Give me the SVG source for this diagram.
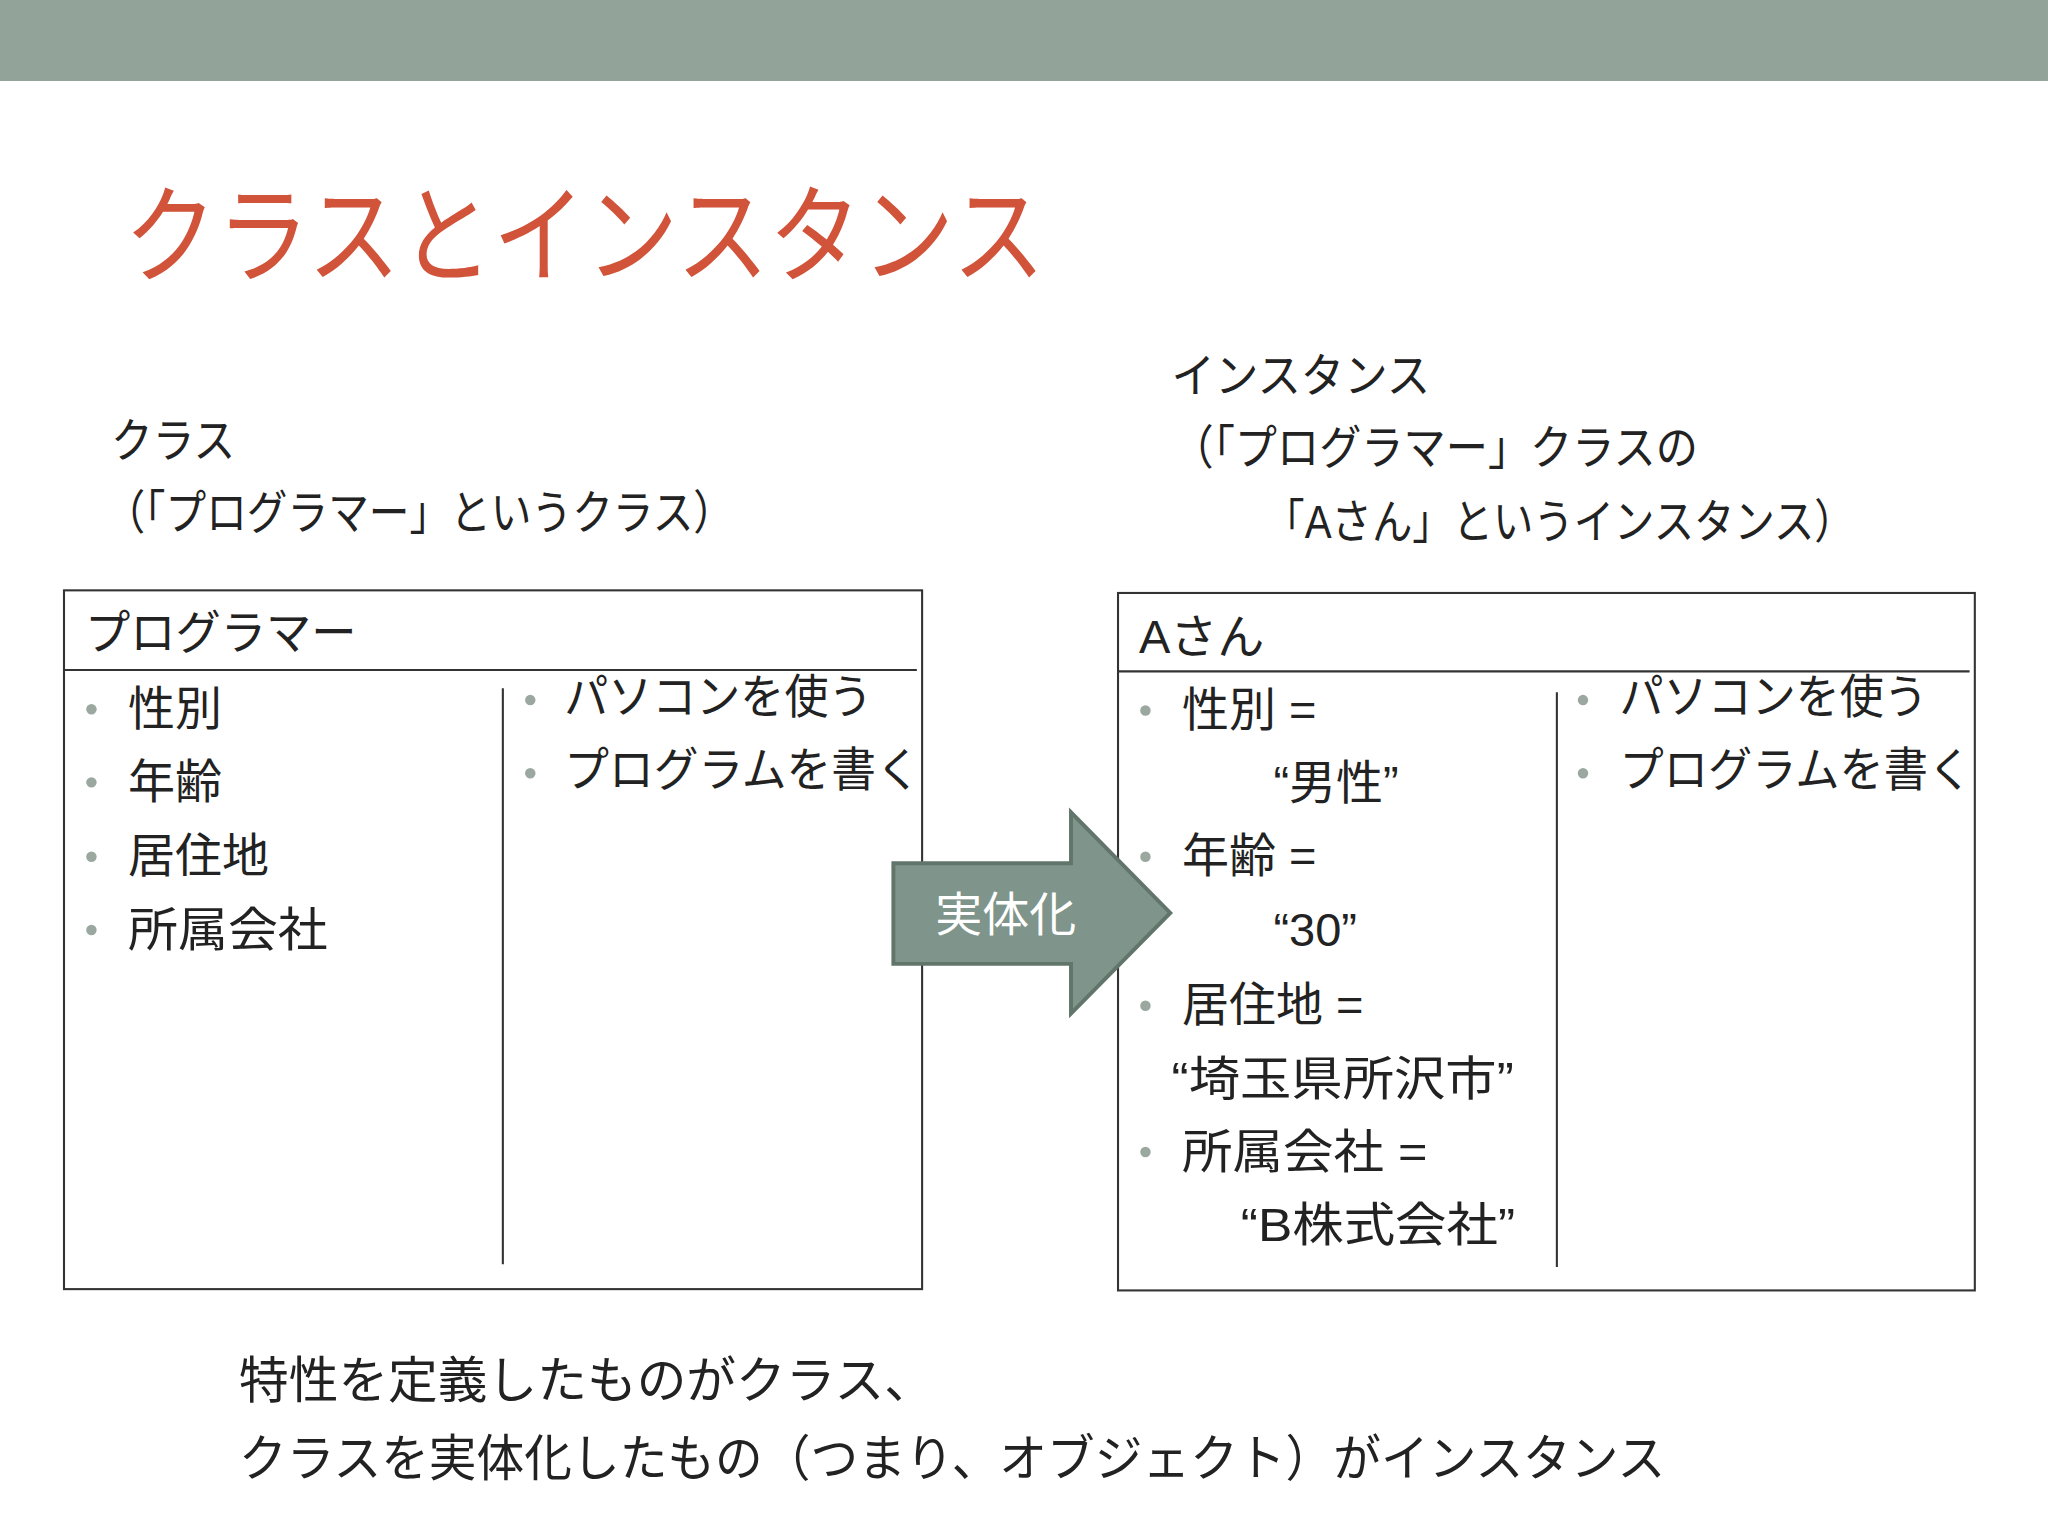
<svg xmlns="http://www.w3.org/2000/svg" width="2048" height="1536" viewBox="0 0 2048 1536">
<style>
text{font-family:"Liberation Sans","Noto Sans CJK JP",sans-serif;fill:#222}
.t{font-size:36px}
.b{font-size:38px}
.d{fill:#9aa8a0}
.ln{stroke:#333;stroke-width:1.6;fill:none}
</style>
<rect width="2048" height="1536" fill="#fff"/>
<g transform="scale(1.3061)">
<rect x="0" y="0" width="1568" height="62" fill="#92a39a"/>
<text x="95" y="210" textLength="705" lengthAdjust="spacingAndGlyphs" style="font-size:82px;fill:#d0533a">クラスとインスタンス</text>
<g id="label-class">
<text class="t" x="85" y="350" textLength="95" lengthAdjust="spacingAndGlyphs">クラス</text>
<text class="t" x="80" y="405" textLength="482" lengthAdjust="spacingAndGlyphs">（「プログラマー」というクラス）</text>
</g>
<g id="label-instance">
<text class="t" x="897" y="300" textLength="198" lengthAdjust="spacingAndGlyphs">インスタンス</text>
<text class="t" x="897" y="355" textLength="403" lengthAdjust="spacingAndGlyphs">（「プログラマー」クラスの</text>
<text class="t" x="968" y="412" textLength="452" lengthAdjust="spacingAndGlyphs">「Aさん」というインスタンス）</text>
</g>
<g id="class-box">
<rect class="ln" x="49" y="452" width="657" height="535"/>
<text class="t" x="65" y="497" textLength="208" lengthAdjust="spacingAndGlyphs">プログラマー</text>
<line class="ln" x1="49" y1="513" x2="702" y2="513"/>
<line class="ln" x1="385" y1="527" x2="385" y2="968"/>
<circle class="d" cx="70" cy="543" r="4"/><text class="t" x="98" y="555">性別</text>
<circle class="d" cx="70" cy="599" r="4"/><text class="t" x="98" y="611">年齢</text>
<circle class="d" cx="70" cy="656" r="4"/><text class="t" x="98" y="668">居住地</text>
<circle class="d" cx="70" cy="712" r="4"/><text class="t" x="98" y="724" textLength="153" lengthAdjust="spacingAndGlyphs">所属会社</text>
<circle class="d" cx="406" cy="536" r="4"/><text class="t" x="432" y="546" textLength="236" lengthAdjust="spacingAndGlyphs">パソコンを使う</text>
<circle class="d" cx="406" cy="592" r="4"/><text class="t" x="432" y="602" textLength="273" lengthAdjust="spacingAndGlyphs">プログラムを書く</text>
</g>
<g id="instance-box">
<rect class="ln" x="856" y="454" width="656" height="534"/>
<text class="t" x="872" y="500">Aさん</text>
<line class="ln" x1="856" y1="514" x2="1508" y2="514"/>
<line class="ln" x1="1192" y1="530" x2="1192" y2="970"/>
<circle class="d" cx="877" cy="544" r="4"/><text class="t" x="905" y="556">性別 =</text>
<text class="t" x="975" y="612">“男性”</text>
<circle class="d" cx="877" cy="656" r="4"/><text class="t" x="905" y="668">年齢 =</text>
<text class="t" x="975" y="724">“30”</text>
<circle class="d" cx="877" cy="770" r="4"/><text class="t" x="905" y="782">居住地 =</text>
<text class="t" x="897" y="838" textLength="262" lengthAdjust="spacingAndGlyphs">“埼玉県所沢市”</text>
<circle class="d" cx="877" cy="882" r="4"/><text class="t" x="905" y="894" textLength="188" lengthAdjust="spacingAndGlyphs">所属会社 =</text>
<text class="t" x="950" y="950" textLength="210" lengthAdjust="spacingAndGlyphs">“B株式会社”</text>
<circle class="d" cx="1212" cy="536" r="4"/><text class="t" x="1240" y="546" textLength="236" lengthAdjust="spacingAndGlyphs">パソコンを使う</text>
<circle class="d" cx="1212" cy="592" r="4"/><text class="t" x="1240" y="602" textLength="270" lengthAdjust="spacingAndGlyphs">プログラムを書く</text>
</g>
<g id="connectors">
<polygon points="684,661 820,661 820,622 896,699 820,776 820,738 684,738" fill="#7f948a" stroke="#61756b" stroke-width="3"/>
<text x="770" y="713" text-anchor="middle" style="font-size:36px;fill:#fff">実体化</text>
</g>
<g id="summary">
<text class="b" x="183" y="1070" textLength="532" lengthAdjust="spacingAndGlyphs">特性を定義したものがクラス、</text>
<text class="b" x="183" y="1130" textLength="1092" lengthAdjust="spacingAndGlyphs">クラスを実体化したもの（つまり、オブジェクト）がインスタンス</text>
</g>
</g>
</svg>
